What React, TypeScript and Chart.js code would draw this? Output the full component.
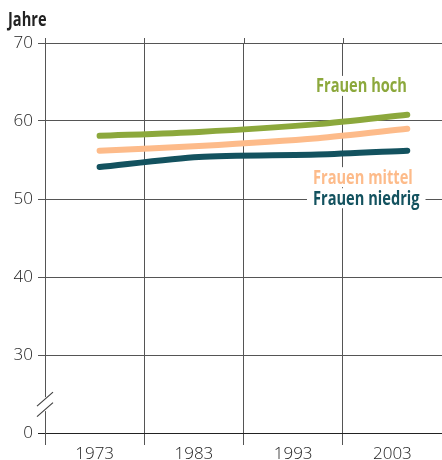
import React, { useEffect, useRef } from "react";
import { Chart, registerables } from "chart.js";

Chart.register(...registerables);

// Data
const years = [1973.5, 1983.5, 1995.5, 2004.5];
const frauenHoch = [58.1, 58.6, 59.6, 60.8];
const frauenMittel = [56.2, 56.8, 57.8, 59.0];
const frauenNiedrig = [54.1, 55.4, 55.7, 56.2];

const seriesNames = ["Frauen hoch", "Frauen mittel", "Frauen niedrig"];
const seriesColors = ["#8ca83c", "#fdbb8a", "#13525f"];
// label anchor positions in data coordinates (year, value)
const labelYears = [1995.3, 1995.0, 1995.0];
const labelValues = [64.5, 52.8, 50.1];

const xGridYears = [1968, 1978, 1988, 1998, 2008];
const xLabelYears = [1973, 1983, 1993, 2003];
const yTicks = [20, 30, 40, 50, 60, 70];
const yTickText = ["0", "30", "40", "50", "60", "70"];

const SQUEEZE = 0.77;

function condensedText(ctx: any, text: string, x: number, y: number) {
  ctx.save();
  ctx.translate(x, y);
  ctx.scale(SQUEEZE, 1);
  ctx.fillText(text, 0, 0);
  ctx.restore();
}

const decorPlugin = {
  id: "decor",
  afterDraw(chart: any) {
    const { ctx, chartArea, scales } = chart;
    const x = scales.x;
    const y = scales.y;
    ctx.save();
    // vertical grid extension above the top
    ctx.strokeStyle = "#555";
    ctx.lineWidth = 1;
    xGridYears.forEach((yr) => {
      const px = Math.round(x.getPixelForValue(yr)) + 0.5;
      if (px > chartArea.right) return;
      ctx.beginPath();
      ctx.moveTo(px, chartArea.top - 5);
      ctx.lineTo(px, chartArea.top);
      ctx.stroke();
    });
    // axis break
    const ax = chartArea.left;
    const cy = y.getPixelForValue(23.7);
    ctx.fillStyle = "#fff";
    ctx.fillRect(ax - 3, cy - 7, 6, 14);
    ctx.strokeStyle = "#444";
    ctx.lineWidth = 1.2;
    ctx.beginPath();
    ctx.moveTo(ax - 8, cy + 2);
    ctx.lineTo(ax + 8, cy - 12);
    ctx.moveTo(ax - 8, cy + 12.5);
    ctx.lineTo(ax + 8, cy - 1.5);
    ctx.stroke();
    // series labels
    ctx.font = "bold 19px 'Open Sans', sans-serif";
    ctx.textBaseline = "middle";
    ctx.textAlign = "left";
    seriesNames.forEach((name, i) => {
      const px = x.getPixelForValue(labelYears[i]);
      const py = y.getPixelForValue(labelValues[i]);
      const w = ctx.measureText(name).width * SQUEEZE;
      ctx.fillStyle = "#fff";
      ctx.fillRect(px - 6, py - 10, w + 12, 20);
      ctx.fillStyle = seriesColors[i];
      condensedText(ctx, name, px, py + 1);
    });
    // y title
    ctx.fillStyle = "#222";
    ctx.font = "bold 19px 'Open Sans', sans-serif";
    ctx.textBaseline = "alphabetic";
    condensedText(ctx, "Jahre", 8, 26);
    ctx.restore();
  },
};

export default function App() {
  const ref = useRef<HTMLCanvasElement>(null);
  useEffect(() => {
    document.body.style.margin = "0";
    const mk = (vals: number[]) => years.map((yr, i) => ({ x: yr, y: vals[i] }));
    const datasets = [frauenHoch, frauenMittel, frauenNiedrig].map((vals, i) => ({
      label: seriesNames[i],
      data: mk(vals),
      borderColor: seriesColors[i],
      backgroundColor: seriesColors[i],
      borderWidth: 6,
      borderCapStyle: "round" as const,
      borderJoinStyle: "round" as const,
      pointRadius: 0,
      tension: 0.25,
      fill: false,
    }));
    const tickFont = { family: "'Open Sans', sans-serif", size: 17, weight: "300" as any };
    const chart = new Chart(ref.current!, {
      type: "line",
      data: { datasets },
      plugins: [decorPlugin],
      options: {
        animation: false,
        responsive: false,
        maintainAspectRatio: false,
        layout: { padding: { top: 43, right: 0, left: 0, bottom: 0 } },
        plugins: { legend: { display: false }, tooltip: { enabled: false } },
        scales: {
          x: {
            type: "linear",
            min: 1968,
            max: 2008,
            afterBuildTicks: (s: any) => {
              const all = [...xGridYears, ...xLabelYears].sort((a, b) => a - b);
              s.ticks = all.map((v) => ({ value: v }));
            },
            afterFit: (s: any) => {
              s.height = 27;
            },
            grid: {
              color: (c: any) => {
                const v = c.tick ? c.tick.value : 0;
                return xGridYears.includes(v) && v < 2008 ? "#555" : "rgba(0,0,0,0)";
              },
              lineWidth: 1,
              tickLength: 12,
            },
            border: { display: true, color: "#222" },
            ticks: {
              autoSkip: false,
              maxRotation: 0,
              padding: -1,
              color: "#222",
              font: tickFont,
              callback: (v: any) => (xLabelYears.includes(Number(v)) ? String(v) : ""),
            },
          },
          y: {
            type: "linear",
            min: 20,
            max: 70,
            afterBuildTicks: (s: any) => {
              s.ticks = yTicks.map((v) => ({ value: v }));
            },
            afterFit: (s: any) => {
              s.width = 45;
            },
            grid: {
              color: (c: any) => (c.tick && c.tick.value === 20 ? "#222" : "#555"),
              lineWidth: 1,
              tickLength: 7,
            },
            border: { display: true, color: "#555" },
            ticks: {
              padding: 5,
              color: "#222",
              font: tickFont,
              callback: (v: any) => {
                const idx = yTicks.indexOf(Number(v));
                return idx >= 0 ? yTickText[idx] : "";
              },
            },
          },
        },
      },
    });
    return () => chart.destroy();
  }, []);
  return (
    <div style={{ width: 442, height: 460, background: "#fff" }}>
      <canvas ref={ref} width={442} height={460} style={{ display: "block" }} />
    </div>
  );
}
